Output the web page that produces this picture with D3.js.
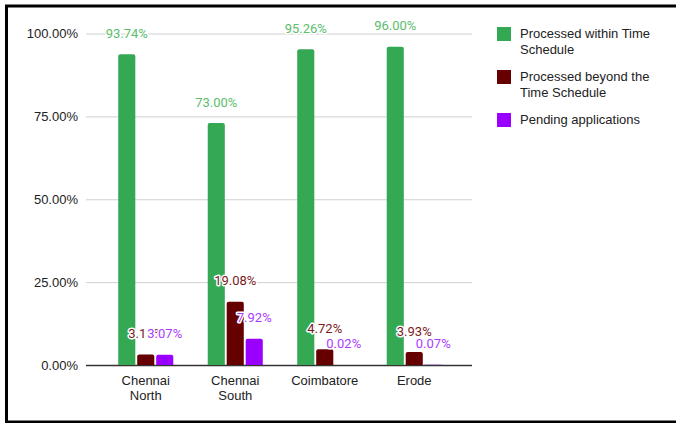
<!DOCTYPE html>
<html>
<head>
<meta charset="utf-8">
<script src="https://cdn.jsdelivr.net/npm/d3@7"></script>
<style>
  body { margin: 0; background: #fff; }
  svg { display: block; }
</style>
</head>
<body>
<div id="chart"></div>
<script>
// Data
const categories = ["Chennai North", "Chennai South", "Coimbatore", "Erode"];
const withinSchedule = [93.74, 73.00, 95.26, 96.00];
const beyondSchedule = [3.13, 19.08, 4.72, 3.93];
const pendingApps = [3.07, 7.92, 0.02, 0.07];
const yTicks = [0, 25, 50, 75, 100];
const seriesNames = ["Processed within Time Schedule", "Processed beyond the Time Schedule", "Pending applications"];

const width = 676, height = 423;
const colors = ["#34a853", "#660000", "#9900ff"];
const labelColors = ["#5bbd6d", "#7a1a1a", "#aa3dff"];

const svg = d3.select("#chart").append("svg")
    .attr("width", width)
    .attr("height", height);

// frame
svg.append("rect")
    .attr("x", 6.5).attr("y", 6)
    .attr("width", 700).attr("height", 416)
    .attr("fill", "none")
    .attr("stroke", "#000")
    .attr("stroke-width", 3);

const plot = { left: 86, right: 472, top: 33.5, bottom: 365 };

const y = d3.scaleLinear().domain([0, 100]).range([plot.bottom, plot.top]);
const x0 = d3.scaleBand().domain(categories).range([101, 459])
    .paddingInner(0.385).paddingOuter(0.1925);
const x1 = d3.scaleBand().domain(d3.range(3)).range([0, x0.bandwidth()]).paddingInner(0.1);

// y axis with gridlines
const yAxis = svg.append("g")
    .attr("transform", `translate(${plot.left},0)`)
    .call(d3.axisLeft(y)
        .tickValues(yTicks)
        .tickSize(-(plot.right - plot.left))
        .tickPadding(8)
        .tickFormat(d => d3.format(".2f")(d) + "%"));
yAxis.select(".domain").remove();
yAxis.selectAll("line").attr("stroke", d => d === 0 ? "#333" : "#d0d0d0")
    .attr("stroke-width", d => d === 0 ? 1.5 : 1);
yAxis.selectAll("text")
    .style("font-family", "Arial, 'Liberation Sans', sans-serif")
    .style("font-size", "13px")
    .attr("fill", "#222");

// category labels
svg.append("g").selectAll("text")
    .data(categories)
    .join("text")
    .attr("x", d => x0(d) + x0.bandwidth() / 2)
    .attr("y", 385)
    .attr("text-anchor", "middle")
    .style("font-family", "Arial, 'Liberation Sans', sans-serif")
    .style("font-size", "13px")
    .attr("fill", "#222")
    .each(function (d) {
        const words = d.split(" ");
        d3.select(this).selectAll("tspan")
            .data(words)
            .join("tspan")
            .attr("x", x0(d) + x0.bandwidth() / 2)
            .attr("dy", (w, i) => i === 0 ? 0 : 15)
            .text(w => w);
    });

// bars
const seriesData = [withinSchedule, beyondSchedule, pendingApps];
const bars = [];
categories.forEach((c, i) => {
    seriesData.forEach((s, j) => {
        bars.push({ cat: c, s: j, v: s[i] });
    });
});

const r = 2;
svg.append("g").selectAll("path")
    .data(bars)
    .join("path")
    .attr("fill", d => colors[d.s])
    .attr("d", d => {
        const bx = x0(d.cat) + x1(d.s), bw = x1.bandwidth();
        const top = y(d.v), bot = y(0);
        const h = bot - top;
        const rr = Math.min(r, h);
        return `M${bx},${bot}V${top + rr}Q${bx},${top} ${bx + rr},${top}H${bx + bw - rr}Q${bx + bw},${top} ${bx + bw},${top + rr}V${bot}Z`;
    });

// value labels
svg.append("g").selectAll("text")
    .data(bars)
    .join("text")
    .attr("x", d => x0(d.cat) + x1(d.s) + x1.bandwidth() / 2)
    .attr("y", d => y(d.v) - 21)
    .attr("dy", "0.35em")
    .attr("text-anchor", "middle")
    .style("font-family", "Roboto, sans-serif")
    .style("font-size", "13px")
    .attr("fill", d => labelColors[d.s])
    .attr("stroke", "#fff")
    .attr("stroke-width", 3)
    .attr("stroke-linejoin", "round")
    .style("paint-order", "stroke")
    .text(d => d3.format(".2f")(d.v) + "%");

// legend
const legendLines = [
    ["Processed within Time", "Schedule"],
    ["Processed beyond the", "Time Schedule"],
    ["Pending applications"]
];
const legendY = [27, 70, 113];
const legend = svg.append("g");
legendLines.forEach((lines, i) => {
    legend.append("rect")
        .attr("x", 497).attr("y", legendY[i])
        .attr("width", 14).attr("height", 14)
        .attr("fill", colors[i]);
    const t = legend.append("text")
        .attr("x", 520).attr("y", legendY[i] + 11)
        .style("font-family", "Arial, 'Liberation Sans', sans-serif")
        .style("font-size", "13px")
        .attr("fill", "#222");
    t.selectAll("tspan").data(lines).join("tspan")
        .attr("x", 520)
        .attr("dy", (w, k) => k === 0 ? 0 : 16)
        .text(w => w);
});
</script>
</body>
</html>
